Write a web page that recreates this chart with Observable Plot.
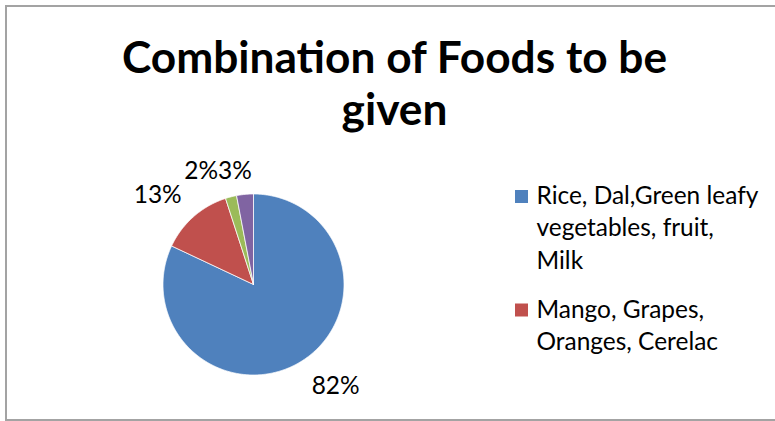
<!DOCTYPE html>
<html>
<head>
<meta charset="utf-8">
<script src="https://cdn.jsdelivr.net/npm/d3@7"></script>
<script src="https://cdn.jsdelivr.net/npm/@observablehq/plot@0.6"></script>
<style>
  html, body { margin: 0; padding: 0; background: #fff; }
  #wrap { position: relative; width: 775px; height: 421px; overflow: hidden; }
  #border { position: absolute; left: 5px; top: 5px; width: 820px; height: 416px; border: 2px solid #a3a3a3; box-sizing: border-box; }
  #chart { position: absolute; left: 0; top: 0; }
</style>
</head>
<body>
<div id="wrap"><div id="border"></div><div id="chart"></div></div>
<script>
// ---- data ----
const title = "Combination of Foods to be given";
const categories = [
  "Rice, Dal,Green leafy vegetables, fruit, Milk",
  "Mango, Grapes, Oranges, Cerelac",
  "Category 3",
  "Category 4"
];
const values = [82, 13, 2, 3];
const percentLabels = ["82%", "13%", "2%", "3%"];
const colors = ["#4F81BD", "#C0504D", "#9BBB59", "#8064A2"];
const legendCount = 2; // only the first two entries are visible in the legend

// ---- layout ----
const W = 775, H = 421;
const cx = 253, cy = 284, r = 90.5;
const fontFamily = "Lato, 'Noto Sans', sans-serif";

const canvas = document.createElement("canvas");
const ctx = canvas.getContext("2d");
function measure(text, size, weight) {
  ctx.font = `${weight || "normal"} ${size}px ${fontFamily}`;
  return ctx.measureText(text).width;
}
function wrap(text, maxWidth, size, weight) {
  const words = text.split(" ");
  const lines = [];
  let cur = "";
  for (const w of words) {
    const t = cur ? cur + " " + w : w;
    if (cur && measure(t, size, weight) > maxWidth) { lines.push(cur); cur = w; }
    else cur = t;
  }
  if (cur) lines.push(cur);
  return lines;
}

// fit fonts to reference widths
const titleSize = 40 * 546 / measure("Combination of Foods to be", 40, "bold");
const bodySize = 24 * 222 / measure("Rice, Dal,Green leafy", 24);
const titleLines = wrap(title, 560, titleSize, "bold");
const titleLineGap = 52;
const legendGap = 32.5;

// unit-coordinate helpers (pie scale has domain [-1,1])
const ux = px => (px - cx) / r;
const uy = py => (cy - py) / r;

// ---- pie geometry ----
const total = d3.sum(values);
const slicePts = [];
const labels = [];
let acc = 0;
values.forEach((v, i) => {
  const a0 = acc / total * 2 * Math.PI;
  acc += v;
  const a1 = acc / total * 2 * Math.PI;
  slicePts.push({cat: categories[i], x: 0, y: 0});
  const steps = Math.max(2, Math.ceil((a1 - a0) / (Math.PI / 360)));
  for (let k = 0; k <= steps; ++k) {
    const a = a0 + (a1 - a0) * k / steps;
    slicePts.push({cat: categories[i], x: Math.sin(a), y: Math.cos(a)});
  }
  slicePts.push({cat: categories[i], x: 0, y: 0});
  const m = (a0 + a1) / 2;
  const R = 1.2;
  labels.push({
    text: percentLabels[i],
    x: R * Math.sin(m),
    y: R * Math.cos(m),
    w: measure(percentLabels[i], bodySize) / r,
    anchor: Math.sin(m) >= 0 ? "start" : "end",
    line: Math.cos(m) < 0 ? "top" : "bottom"
  });
});

// resolve horizontal overlaps between labels on the same row (push apart)
for (let pass = 0; pass < 3; ++pass) {
  for (let i = 0; i < labels.length; ++i) {
    for (let j = 0; j < labels.length; ++j) {
      if (i === j) continue;
      const a = labels[i], b = labels[j];
      if (a.line !== b.line) continue;
      const hy = 0.75 * bodySize / r;
      if (Math.abs(a.y - b.y) > hy) continue;
      const box = d => d.anchor === "start" ? [d.x, d.x + d.w] : [d.x - d.w, d.x];
      const [a0, a1] = box(a), [b0, b1] = box(b);
      if (a0 <= b0 && a1 > b0) {
        const ov = a1 - b0;
        a.x -= ov / 2; b.x += ov / 2;
        const yy = a.line === "bottom" ? Math.min(a.y, b.y) : Math.max(a.y, b.y);
        a.y = yy; b.y = yy;
      }
    }
  }
}

const labelMarks = [];
for (const anchor of ["start", "end"]) {
  for (const line of ["top", "bottom"]) {
    const subset = labels.filter(d => d.anchor === anchor && d.line === line);
    if (subset.length) labelMarks.push(Plot.text(subset, {
      x: "x", y: "y", text: "text",
      textAnchor: anchor, lineAnchor: line,
      fontSize: bodySize, fontFamily, fill: "#000"
    }));
  }
}

// ---- legend ----
const legendData = [];
const legendFirstBaselines = [203, 317];
const legendSquareY = [196, 309.5];
categories.slice(0, legendCount).forEach((c, i) => {
  const lines = wrap(c, 228, bodySize);
  legendData.push({
    cat: c,
    text: lines.join("\n"),
    sx: ux(521), sy: uy(legendSquareY[i]),
    tx: ux(536), ty: uy(legendFirstBaselines[i] + (lines.length - 1) * legendGap)
  });
});

const titleData = [{
  text: titleLines.join("\n"),
  x: ux(394),
  y: uy(72 + (titleLines.length - 1) * titleLineGap)
}];

const plot = Plot.plot({
  width: W, height: H, margin: 0,
  x: {domain: [-1, 1], range: [cx - r, cx + r], axis: null},
  y: {domain: [-1, 1], range: [cy + r, cy - r], axis: null},
  color: {domain: categories, range: colors},
  style: {background: "transparent", overflow: "visible"},
  marks: [
    Plot.line(slicePts, {x: "x", y: "y", z: "cat", fill: "cat", stroke: "#ffffff", strokeWidth: 0.75, curve: "linear"}),
    ...labelMarks,
    Plot.dot(legendData, {x: "sx", y: "sy", fill: "cat", symbol: "square", r: 13 / Math.sqrt(Math.PI), stroke: null}),
    Plot.text(legendData, {x: "tx", y: "ty", text: "text", textAnchor: "start", lineAnchor: "bottom",
      lineHeight: legendGap / bodySize, fontSize: bodySize, fontFamily, fill: "#000"}),
    Plot.text(titleData, {x: "x", y: "y", text: "text", textAnchor: "middle", lineAnchor: "bottom",
      lineHeight: titleLineGap / titleSize, fontSize: titleSize, fontWeight: "bold", fontFamily, fill: "#000"})
  ]
});
document.getElementById("chart").appendChild(plot);
</script>
</body>
</html>
